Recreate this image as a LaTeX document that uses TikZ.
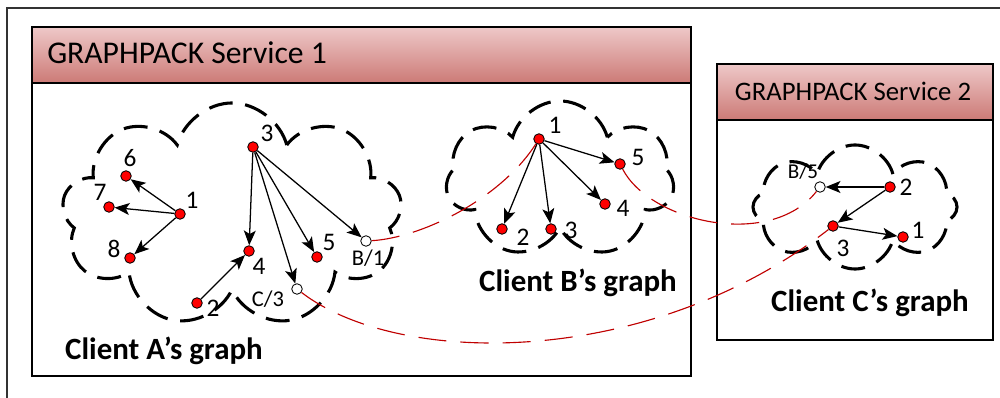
\documentclass[tikz,border=0pt]{standalone}
\usepackage{fontspec}
\setmainfont{Carlito}
\usepackage{xcolor}
\usetikzlibrary{shapes.symbols,arrows.meta}
\definecolor{headTop}{RGB}{238,200,200}
\definecolor{headBottom}{RGB}{204,122,118}
\definecolor{linkRed}{RGB}{192,0,0}

\begin{document}
\begin{tikzpicture}[x=0.025cm,y=-0.025cm,
    vertex/.style={circle,draw,fill=red,line width=0.6pt,minimum size=7.5pt,inner sep=0pt},
    ghost/.style={circle,draw,fill=white,line width=0.6pt,minimum size=7.5pt,inner sep=0pt},
    num/.style={inner sep=0pt,font=\fontsize{18}{20}\selectfont},
    pointer/.style={-{Stealth[length=10.5pt,width=8.5pt,inset=2.5pt]},line width=0.9pt},
    link/.style={draw=linkRed,line width=0.8pt,dash pattern=on 20pt off 10pt},
    bubble/.style={cloud,cloud ignores aspect,draw,line width=2.2pt,dash pattern=on 17pt off 9pt,inner sep=0pt},
    head/.style={draw,line width=1pt,top color=headTop,bottom color=headBottom}]
    \useasboundingbox (0,0) rectangle (1000,398);
    \draw[line width=0.8pt,black!80] (7,398) -- (7,8) -- (1000,8);

    % service boxes
    \draw[line width=1pt,fill=white] (32,27) rectangle (691,376);
    \draw[head] (32,27) rectangle (691,83);
    \node[anchor=west,inner sep=0pt,font=\fontsize{22.5}{24}\selectfont] (serviceOne) at (47,53) {GRAPHPACK Service 1};
    \draw[line width=1pt,fill=white] (717,64) rectangle (993,340);
    \draw[head] (717,64) rectangle (993,120);
    \node[inner sep=0pt,font=\fontsize{19}{21}\selectfont] (serviceTwo) at (853,91) {GRAPHPACK Service 2};

    % clouds
    \node[bubble,cloud puffs=9,minimum width=8.5cm,minimum height=5.6cm] (cloudA) at (232,215) {};
    \node[bubble,cloud puffs=7,minimum width=5.7cm,minimum height=3.95cm] (cloudB) at (560,180) {};
    \node[bubble,cloud puffs=8,minimum width=5.1cm,minimum height=3.1cm] (cloudC) at (855,207) {};

    % client A
    \node[vertex] (a1) at (180,214) {};
    \node[vertex] (a2) at (197,303) {};
    \node[vertex] (a3) at (253,147) {};
    \node[vertex] (a4) at (249,251) {};
    \node[vertex] (a5) at (317,257) {};
    \node[vertex] (a6) at (126,176) {};
    \node[vertex] (a7) at (109,207) {};
    \node[vertex] (a8) at (130,258) {};
    \node[ghost] (aGhostB) at (366,241) {};
    \node[ghost] (aGhostC) at (297,289) {};
    \node[num] (a1Label) at (192,200) {1};
    \node[num] (a2Label) at (213,308) {2};
    \node[num] (a3Label) at (267,133) {3};
    \node[num] (a4Label) at (259,266) {4};
    \node[num] (a5Label) at (329,242) {5};
    \node[num] (a6Label) at (130,158) {6};
    \node[num] (a7Label) at (100,192) {7};
    \node[num] (a8Label) at (114,249) {8};
    \node[num,font=\fontsize{16}{18}\selectfont] (aGhostBLabel) at (368,258) {B/1};
    \node[num,font=\fontsize{16}{18}\selectfont] (aGhostCLabel) at (268,299) {C/3};
    \node[inner sep=0pt,anchor=base,font=\fontsize{22}{24}\selectfont\bfseries] (titleA) at (164,360) {Client A’s graph};

    \draw[pointer] (a1) -- (a6);
    \draw[pointer] (a1) -- (a7);
    \draw[pointer] (a1) -- (a8);
    \draw[pointer] (a3) -- (a4);
    \draw[pointer] (a3) -- (aGhostC);
    \draw[pointer] (a3) -- (a5);
    \draw[pointer] (a3) -- (aGhostB);
    \draw[pointer] (a2) -- (a4);

    % client B
    \node[vertex] (b1) at (539,139) {};
    \node[vertex] (b2) at (502,229) {};
    \node[vertex] (b3) at (551,229) {};
    \node[vertex] (b4) at (605,204) {};
    \node[vertex] (b5) at (620,164) {};
    \node[num] (b1Label) at (555,125) {1};
    \node[num] (b2Label) at (523,237) {2};
    \node[num] (b3Label) at (571,230) {3};
    \node[num] (b4Label) at (623,208) {4};
    \node[num] (b5Label) at (638,157) {5};
    \node[inner sep=0pt,anchor=base,font=\fontsize{22}{24}\selectfont\bfseries] (titleB) at (578,292) {Client B’s graph};

    \draw[pointer] (b1) -- (b2);
    \draw[pointer] (b1) -- (b3);
    \draw[pointer] (b1) -- (b4);
    \draw[pointer] (b1) -- (b5);

    % client C
    \node[vertex] (c1) at (903,237) {};
    \node[vertex] (c2) at (890,187) {};
    \node[vertex] (c3) at (833,226) {};
    \node[ghost] (cGhostB) at (820,187) {};
    \node[num] (c1Label) at (918,230) {1};
    \node[num] (c2Label) at (906,187) {2};
    \node[num] (c3Label) at (843,248) {3};
    \node[num,font=\fontsize{15}{17}\selectfont] (cGhostBLabel) at (803,172) {B/5};
    \node[inner sep=0pt,anchor=base,font=\fontsize{22}{24}\selectfont\bfseries] (titleC) at (870,312) {Client C’s graph};

    \draw[pointer] (c2) -- (cGhostB);
    \draw[pointer] (c2) -- (c3);
    \draw[pointer] (c3) -- (c1);

    % links between copies
    \draw[link] (aGhostB) .. controls (420,238) and (500,200) .. (b1);
    \draw[link] (b5) .. controls (650,222) and (770,250) .. (cGhostB);
    \draw[link] (aGhostC) .. controls (400,368) and (650,368) .. (c3);
\end{tikzpicture}
\end{document}
